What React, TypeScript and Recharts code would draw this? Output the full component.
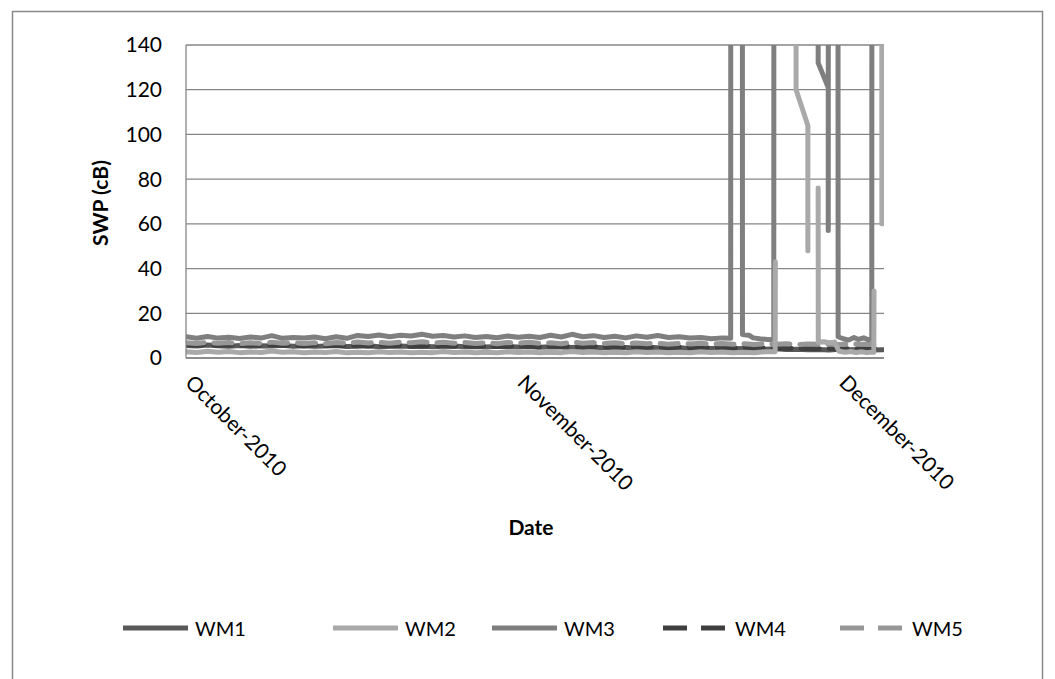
import React from "react";
import { LineChart, Line, XAxis, YAxis, CartesianGrid } from "recharts";

// x = days since 1 Oct 2010
const tickDays = [0, 31, 61];
const tickLabels = ["October-2010", "November-2010", "December-2010"];
const yTicks = [0, 20, 40, 60, 80, 100, 120, 140];

const seriesNames = ["WM1", "WM2", "WM3", "WM4", "WM5"];
const seriesColors = ["#595959", "#a9a9a9", "#7f7f7f", "#3f3f3f", "#979797"];

// daily readings (day 0..65)
const wm1Daily = [5.6,5.4,5.8,5.5,5.3,5.6,5.2,5.5,5.4,5.7,5.3,5.5,5.2,5.4,5.6,5.1,5.3,5.5,5.0,5.2,5.4,5.1,5.3,5.0,5.2,5.4,5.0,5.1,4.9,5.2,5.0,4.9,5.1,4.8,5.0,4.9,4.7,5.0,4.8,4.6,4.9,4.7,4.5,4.8,4.6,4.4,4.6,4.3,4.5,4.2,4.4,4.1,4.3,4.0,3.9,4.1,3.8,3.9,3.7,3.8,3.6,3.9,3.7,3.8,3.6,3.7];
const wm4Daily = [6.0,5.8,6.1,5.7,5.9,5.6,5.9,5.7,6.0,5.6,5.8,5.5,5.9,5.6,5.7,5.5,5.8,5.4,5.7,5.5,5.6,5.3,5.6,5.4,5.5,5.2,5.5,5.3,5.4,5.1,5.4,5.2,5.3,5.0,5.3,5.1,5.2,4.9,5.2,5.0,5.1,4.8,5.0,4.9,4.8,4.7,4.9,4.6,4.8,4.5,4.7,4.4,4.6,4.3,4.5,4.2,4.4,4.2,4.3,4.1,4.3,4.0,4.2,4.1,4.0,4.1];
const wm5Daily = [6.8,6.5,7.0,6.6,6.9,6.4,6.8,6.5,7.1,6.6,6.9,6.5,6.8,6.4,6.9,6.6,7.2,6.7,7.0,6.6,7.1,6.8,7.3,6.7,7.0,6.6,6.9,6.5,6.8,6.4,6.9,6.6,7.0,6.5,6.8,6.4,7.1,6.6,6.9,6.5,6.8,6.3,6.7,6.4,6.6,6.2,6.5,6.3,6.6,6.2,6.5,6.1,6.4,6.0,6.3,6.1,6.4,6.0,6.3,6.1,6.2,6.0,6.3,6.1,6.2,6.0];
// days 0..54
const wm2Daily = [2.8,2.5,3.0,2.6,2.9,2.4,2.7,2.5,3.1,2.6,2.8,2.4,2.7,2.5,2.9,2.3,2.6,2.4,2.8,2.5,2.7,2.3,2.6,2.4,2.9,2.5,2.7,2.3,2.6,2.4,2.8,2.5,2.7,2.3,2.6,2.4,2.9,2.5,2.7,2.3,2.6,2.4,2.8,2.5,2.7,2.3,2.6,2.4,2.8,2.5,2.7,2.3,2.6,2.4,2.8];
// days 0..50
const wm3Daily = [9.5,8.8,9.6,8.9,9.3,8.7,9.4,8.9,10.0,8.8,9.2,8.9,9.4,8.6,9.5,8.8,10.1,9.6,10.3,9.5,10.2,9.8,10.6,9.7,10.1,9.4,9.9,9.2,9.6,9.1,9.8,9.3,9.7,9.2,10.2,9.4,10.6,9.5,10.0,9.2,9.7,9.0,9.9,9.3,10.1,9.2,9.5,8.9,9.2,8.6,9.0];

// late readings (off-scale values above 140 are clipped by the axis)
const wm2LateDays = [54.95, 54.97, 54.98, 56.9, 56.9, 58.0, 58.0, 58.01, 58.96, 58.97, 59.5, 60.0, 60.5, 60.9, 61.5, 62.0, 62.5, 63.0, 63.5, 64.0, 64.15, 64.17, 64.18, 64.88, 64.9];
const wm2LateVals = [2.8, 43, null, 400, 120, 104, 48, null, 76, 7, 7.3, 6.8, 7.1, 3.0, 2.6, 2.9, 2.5, 2.8, 2.4, 2.7, 2.6, 30, null, 400, 60];
const wm3LateDays = [50.8, 50.82, 51.88, 51.9, 52.5, 52.9, 53.5, 54.0, 54.5, 54.82, 54.84, 58.96, 58.96, 59.9, 59.9, 59.92, 60.8, 60.82, 61.3, 61.8, 62.3, 62.7, 63.2, 63.6, 63.96, 63.98, 65.1];
const wm3LateVals = [8.8, 400, 400, 10.5, 10.2, 9.0, 8.6, 8.4, 8.2, 8.5, 400, 400, 132, 121, 57, 400, 400, 9.5, 8.6, 8.0, 9.2, 8.3, 9.0, 8.2, 8.5, 400, 400];

const toPts = (days: number[], vals: (number | null)[]) => days.map((d, i) => ({ d, v: vals[i] }));
const dailyPts = (vals: number[]) => vals.map((v, i) => ({ d: i, v }));

const wm1Data = dailyPts(wm1Daily);
const wm2Data = [...dailyPts(wm2Daily), ...toPts(wm2LateDays, wm2LateVals)];
const wm3Data = [...dailyPts(wm3Daily), ...toPts(wm3LateDays, wm3LateVals)];
const wm4Data = dailyPts(wm4Daily);
const wm5Data = dailyPts(wm5Daily);

const FONT = "Lato, 'Open Sans', sans-serif";

const XTick = (props: any) => {
  const { x, y, payload } = props;
  const idx = tickDays.indexOf(payload.value);
  const ax = x + 4;
  const ay = y + 12;
  return (
    <text x={ax} y={ay} transform={`rotate(45 ${ax} ${ay})`} textAnchor="start" dominantBaseline="central" fontFamily={FONT} fontSize={21} fill="#000">
      {tickLabels[idx]}
    </text>
  );
};

const legendX = [123, 333, 492, 663, 840];

export default function App() {
  const lineProps = { type: "linear" as const, dataKey: "v", dot: false, isAnimationActive: false, strokeWidth: 5, strokeLinejoin: "round" as const, strokeLinecap: "round" as const };
  return (
    <div style={{ position: "absolute", left: 0, top: 0, width: 1055, height: 679, background: "#fff", overflow: "hidden" }}>
      <LineChart width={1055} height={679} margin={{ top: 45, right: 171, left: 126, bottom: 221 }}>
        <CartesianGrid vertical={false} stroke="#868686" strokeWidth={1.3} />
        <XAxis dataKey="d" type="number" domain={[0, 65.1]} ticks={tickDays} allowDataOverflow height={100} tickLine={false} axisLine={{ stroke: "#868686", strokeWidth: 1.3 }} tick={<XTick />} interval={0} />
        <YAxis type="number" domain={[0, 140]} ticks={yTicks} allowDataOverflow width={60} tickLine={false} tickSize={0} tickMargin={24} axisLine={{ stroke: "#868686", strokeWidth: 1.3 }} tick={{ fontFamily: FONT, fontSize: 21, fill: "#000" }} />
        <Line {...lineProps} data={wm1Data} stroke={seriesColors[0]} name={seriesNames[0]} />
        <Line {...lineProps} data={wm4Data} stroke={seriesColors[3]} strokeDasharray="18 10" name={seriesNames[3]} />
        <Line {...lineProps} data={wm5Data} stroke={seriesColors[4]} strokeDasharray="18 10" name={seriesNames[4]} />
        <Line {...lineProps} data={wm3Data} stroke={seriesColors[2]} name={seriesNames[2]} />
        <Line {...lineProps} data={wm2Data} stroke={seriesColors[1]} name={seriesNames[1]} />
      </LineChart>
      <svg width={1055} height={679} style={{ position: "absolute", left: 0, top: 0, pointerEvents: "none" }}>
        <rect x={12.5} y={11.5} width={1030} height={700} fill="none" stroke="#898989" strokeWidth={1.5} />
        <text transform="translate(108 203) rotate(-90)" textAnchor="middle" fontFamily={FONT} fontWeight="bold" fontSize={21} fill="#000">SWP (cB)</text>
        <text x={531} y={535} textAnchor="middle" fontFamily={FONT} fontWeight="bold" fontSize={21} fill="#000">Date</text>
        {seriesNames.map((n, i) => (
          <g key={n}>
            <line x1={legendX[i]} x2={legendX[i] + 65} y1={628} y2={628} stroke={seriesColors[i]} strokeWidth={5} strokeDasharray={i >= 3 ? "24 14" : undefined} />
            <text x={legendX[i] + 72} y={628} dominantBaseline="central" fontFamily={FONT} fontSize={20} fill="#000">{n}</text>
          </g>
        ))}
      </svg>
    </div>
  );
}
